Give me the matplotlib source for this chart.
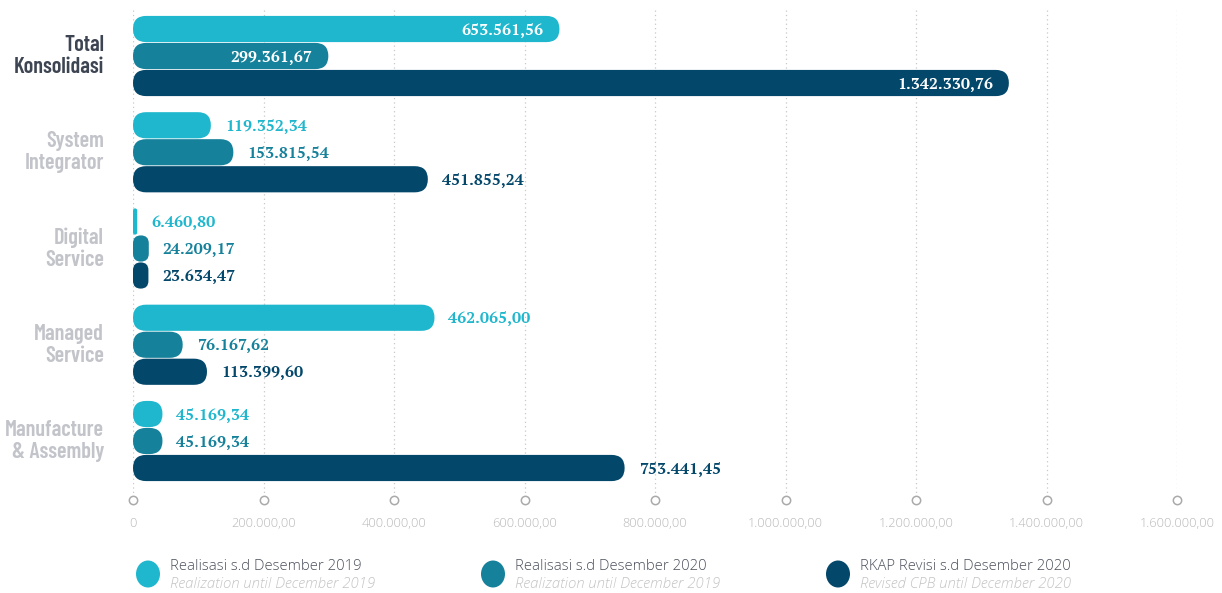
import matplotlib
matplotlib.use("Agg")
import matplotlib.pyplot as plt
from matplotlib.patches import FancyBboxPatch, Ellipse

# data
categories = ["Total\nKonsolidasi", "System\nIntegrator", "Digital\nService",
              "Managed\nService", "Manufacture\n& Assembly"]
real_2019 = [653561.56, 119352.34, 6460.80, 462065.00, 45169.34]
real_2020 = [299361.67, 153815.54, 24209.17, 76167.62, 45169.34]
rkap_2020 = [1342330.76, 451855.24, 23634.47, 113399.60, 753441.45]
x_ticks = [0, 200000, 400000, 600000, 800000, 1000000, 1200000, 1400000, 1600000]
x_tick_labels = ["0", "200.000,00", "400.000,00", "600.000,00", "800.000,00",
                 "1.000.000,00", "1.200.000,00", "1.400.000,00", "1.600.000,00"]
legend_titles = ["Realisasi s.d Desember 2019", "Realisasi s.d Desember 2020",
                 "RKAP Revisi s.d Desember 2020"]
legend_subtitles = ["Realization until December 2019", "Realization until December 2019",
                    "Revised CPB until December 2020"]

colors = ["#1fb7cd", "#16819b", "#03476a"]
series = [real_2019, real_2020, rkap_2020]

cat_font = ["Barlow Condensed", "DejaVu Sans"]
val_font = ["PT Serif", "Liberation Serif"]
txt_font = ["Open Sans", "DejaVu Sans"]


def fmt(v):
    s = f"{v:,.2f}"
    return s.replace(",", "X").replace(".", ",").replace("X", ".")


W, H = 1222, 593
fig = plt.figure(figsize=(W / 100, H / 100), dpi=100)
ax = fig.add_axes([133 / W, 1 - 500 / H, 1044 / W, 490 / H])

ax.set_xlim(0, 1600000)
ax.set_ylim(4.613, -0.478)
for s in ax.spines.values():
    s.set_visible(False)
ax.tick_params(left=False, bottom=False, labelleft=False)

# grid lines + circle markers at the bottom
for t in x_ticks:
    ax.plot([t, t], [-0.478, 4.56], ls=(0, (1, 2.5)), color="#c8c8c8", lw=0.9, zorder=0)
ax.plot(x_ticks, [4.613] * len(x_ticks), "o", ms=6, mfc="white", mec="#aaaaaa",
        mew=1.1, clip_on=False, zorder=3)
ax.set_xticks(x_ticks)
ax.set_xticklabels(x_tick_labels, color="#b8b8b8", fontsize=9.2, family=txt_font,
                   fontweight="light")
ax.tick_params(axis="x", pad=9)

fig.canvas.draw()
sx = ax.transData.transform((1, 0))[0] - ax.transData.transform((0, 0))[0]
sy = abs(ax.transData.transform((0, 1))[1] - ax.transData.transform((0, 0))[1])

offsets = [-0.2805, 0.0, 0.2805]
bar_h = 0.272
for j, vals in enumerate(series):
    for i, v in enumerate(vals):
        yc = i + offsets[j]
        w_px = v * sx
        h_px = bar_h * sy
        r_px = min(h_px / 2, w_px / 2)
        p = FancyBboxPatch((0, yc - bar_h / 2), v, bar_h,
                           boxstyle=f"round,pad=0,rounding_size={r_px / sx}",
                           mutation_aspect=sx / sy, fc=colors[j], ec="none", zorder=2)
        ax.add_patch(p)
        if i == 0:
            ax.annotate(fmt(v), (v, yc), xytext=(-16, -1), textcoords="offset pixels",
                        ha="right", va="center", color="white", fontsize=11.5,
                        fontweight="bold", family=val_font)
        else:
            ax.annotate(fmt(v), (v, yc), xytext=(14, -1), textcoords="offset pixels",
                        ha="left", va="center", color=colors[j], fontsize=11.5,
                        fontweight="bold", family=val_font)

# category labels
for i, c in enumerate(categories):
    col = "#3d4452" if i == 0 else "#c2c4ca"
    ax.annotate(c, (0, i), xytext=(-29, 0), textcoords="offset pixels",
                ha="right", va="center", color=col, fontsize=16, fontweight="semibold",
                family=cat_font, linespacing=1.12, multialignment="right")

# legend
legend_x = [148, 493, 838]
for k in range(3):
    fig.add_artist(Ellipse((legend_x[k] / W, 1 - 574 / H), 24 / W, 27 / H,
                           transform=fig.transFigure, fc=colors[k], ec="none"))
    fig.text((legend_x[k] + 22) / W, 1 - 566 / H, legend_titles[k], ha="left", va="center",
             color="#4a4f5a", fontsize=10.7, family=txt_font, fontweight="light")
    fig.text((legend_x[k] + 22) / W, 1 - 584 / H, legend_subtitles[k], ha="left", va="center",
             color="#c4c4c4", fontsize=10.7, style="italic", family=txt_font,
             fontweight="light")

fig.savefig("out.png", dpi=100)
